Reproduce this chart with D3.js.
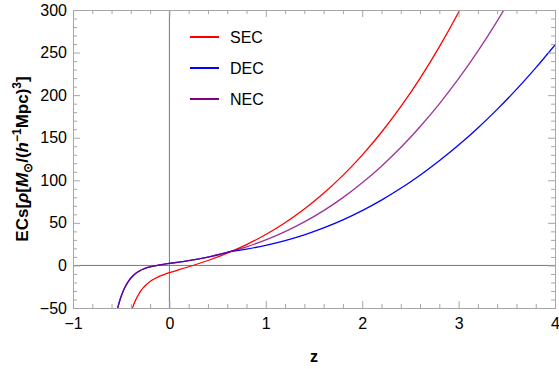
<!DOCTYPE html>
<html>
<head>
<meta charset="utf-8">
<script src="https://cdn.jsdelivr.net/npm/d3@7"></script>
<style>
  html, body { margin: 0; padding: 0; background: #fff; }
  svg { display: block; font-family: "Liberation Sans", Arial, sans-serif; }
</style>
</head>
<body>
<svg id="chart" width="559" height="369"></svg>
<script>
// Energy conditions versus redshift
const seriesNames = ["SEC", "DEC", "NEC"];
const seriesColors = ["#ff0000", "#0000ff", "#800080"];

const secZ = [-0.40, -0.38, -0.36, -0.34, -0.32, -0.30, -0.27, -0.24, -0.20, -0.15, -0.10, -0.05, 0,
  0.1, 0.2, 0.4, 0.6, 0.65, 0.8, 1.0, 1.2, 1.4, 1.6, 1.8, 2.0, 2.2, 2.4, 2.6, 2.8, 3.0, 3.2];
const secV = [-55.9, -49.0, -43.2, -38.3, -34.1, -30.5, -26.1, -22.6, -18.9, -15.4, -12.6, -10.4, -8.5,
  -4.95, -1.55, 5.79, 14.34, 16.73, 24.46, 36.35, 50.22, 66.3, 84.75, 105.79, 129.61, 156.42, 186.4,
  219.79, 256.69, 297.31, 341.9];

const necZ = [-0.56, -0.54, -0.52, -0.50, -0.48, -0.46, -0.44, -0.42, -0.40, -0.38, -0.36, -0.34, -0.32,
  -0.30, -0.27, -0.24, -0.20, -0.15, -0.10, -0.05, 0, 0.1, 0.2, 0.4, 0.6, 0.65, 0.8, 1.0, 1.2, 1.4, 1.6,
  1.8, 2.0, 2.2, 2.4, 2.6, 2.8, 3.0, 3.2, 3.4, 3.6];
const necV = [-61.9, -51.8, -43.3, -36.3, -30.3, -25.4, -21.3, -17.8, -14.8, -12.4, -10.3, -8.6, -7.1,
  -5.8, -4.3, -3.0, -1.7, -0.4, 0.7, 1.6, 2.4, 4.0, 5.74, 9.88, 15.20, 16.73, 21.84, 29.95, 39.66, 51.10,
  64.39, 79.65, 97.01, 116.58, 138.48, 162.87, 189.77, 219.31, 251.68, 286.97, 325.2];

const decZ = [-0.56, -0.54, -0.52, -0.50, -0.48, -0.46, -0.44, -0.42, -0.40, -0.38, -0.36, -0.34, -0.32,
  -0.30, -0.27, -0.24, -0.20, -0.15, -0.10, -0.05, 0, 0.1, 0.2, 0.4, 0.6, 0.65, 0.7, 0.8, 1.0, 1.2, 1.4,
  1.6, 1.8, 2.0, 2.2, 2.4, 2.6, 2.8, 3.0, 3.2, 3.4, 3.6, 3.8, 4.0];
const decV = [-61.9, -51.8, -43.3, -36.3, -30.3, -25.4, -21.3, -17.8, -14.8, -12.4, -10.3, -8.6, -7.1,
  -5.8, -4.3, -3.0, -1.7, -0.4, 0.7, 1.6, 2.4, 4.0, 5.74, 9.88, 15.20, 16.73, 17.49, 19.22, 23.55, 29.10,
  35.9, 44.03, 53.51, 64.41, 76.74, 90.56, 105.95, 122.85, 141.31, 161.46, 183.29, 206.74, 232.06, 259.05];

const xTicks = [-1, 0, 1, 2, 3, 4];
const yTicks = [-50, 0, 50, 100, 150, 200, 250, 300];

const svg = d3.select("#chart");
const plot = { left: 73, right: 555, top: 10, bottom: 308 };

const x = d3.scaleLinear().domain([-1, 4]).range([plot.left, plot.right]);
const y = d3.scaleLinear().domain([-50, 300]).range([plot.bottom, plot.top]);

const frameColor = "#a6a6a6";
const fmt = d => (d < 0 ? "\u2212" + Math.abs(d) : String(d));

svg.append("defs").append("clipPath").attr("id", "plotClip")
  .append("rect")
  .attr("x", plot.left).attr("y", plot.top)
  .attr("width", plot.right - plot.left).attr("height", plot.bottom - plot.top);

// Zero axes through the frame
svg.append("line")
  .attr("x1", x(0)).attr("x2", x(0)).attr("y1", plot.top).attr("y2", plot.bottom)
  .attr("stroke", "#777").attr("stroke-width", 1);
svg.append("line")
  .attr("x1", plot.left).attr("x2", plot.right).attr("y1", y(0)).attr("y2", y(0))
  .attr("stroke", "#777").attr("stroke-width", 1);

// Curves
const series = [
  { name: seriesNames[0], color: seriesColors[0], z: secZ, v: secV, opacity: 1 },
  { name: seriesNames[1], color: seriesColors[1], z: decZ, v: decV, opacity: 1 },
  { name: seriesNames[2], color: seriesColors[2], z: necZ, v: necV, opacity: 0.8 }
];
const line = d3.line()
  .x(d => x(d[0])).y(d => y(d[1]))
  .curve(d3.curveMonotoneX);
const curves = svg.append("g").attr("clip-path", "url(#plotClip)");
series.forEach(s => {
  curves.append("path")
    .datum(d3.zip(s.z, s.v))
    .attr("d", line)
    .attr("fill", "none")
    .attr("stroke", s.color)
    .attr("stroke-opacity", s.opacity)
    .attr("stroke-width", 1.3);
});

// Frame with inward ticks on all four sides
const axisG = svg.append("g");
const bottomAxis = d3.axisBottom(x).tickValues(xTicks).tickFormat(fmt).tickSize(-7).tickPadding(10);
const topAxis = d3.axisTop(x).tickValues(xTicks).tickFormat("").tickSize(-7);
const leftAxis = d3.axisLeft(y).tickValues(yTicks).tickFormat(fmt).tickSize(-7).tickPadding(6);
const rightAxis = d3.axisRight(y).tickValues(yTicks).tickFormat("").tickSize(-7);

const xMinor = d3.range(-1, 4.0001, 0.2).filter(v => Math.abs(v - Math.round(v)) > 1e-6);
const yMinor = d3.range(-50, 300.001, 10).filter(v => v % 50 !== 0);
const bottomMinor = d3.axisBottom(x).tickValues(xMinor).tickFormat("").tickSize(-4);
const topMinor = d3.axisTop(x).tickValues(xMinor).tickFormat("").tickSize(-4);
const leftMinor = d3.axisLeft(y).tickValues(yMinor).tickFormat("").tickSize(-4);
const rightMinor = d3.axisRight(y).tickValues(yMinor).tickFormat("").tickSize(-4);

function place(axis, tx, ty) {
  const g = axisG.append("g").attr("transform", `translate(${tx},${ty})`).call(axis);
  g.selectAll("path.domain").attr("stroke", frameColor).attr("stroke-width", 1);
  g.selectAll(".tick line").attr("stroke", frameColor).attr("stroke-width", 1);
  g.selectAll(".tick text").attr("fill", "#000").attr("font-size", 16)
    .attr("font-family", "Liberation Sans, Arial, sans-serif");
  return g;
}
place(bottomMinor, 0, plot.bottom);
place(topMinor, 0, plot.top);
place(leftMinor, plot.left, 0);
place(rightMinor, plot.right, 0);
place(bottomAxis, 0, plot.bottom);
place(topAxis, 0, plot.top);
place(leftAxis, plot.left, 0);
place(rightAxis, plot.right, 0);

// Axis titles
svg.append("text")
  .attr("x", (plot.left + plot.right) / 2).attr("y", 362)
  .attr("text-anchor", "middle").attr("font-size", 16).attr("font-weight", "bold")
  .text("z");

const yTitle = svg.append("text")
  .attr("transform", `translate(28,${(plot.top + plot.bottom) / 2}) rotate(-90)`)
  .attr("text-anchor", "middle").attr("font-size", 17).attr("font-weight", "bold");
yTitle.append("tspan").text("ECs[");
yTitle.append("tspan").attr("font-style", "italic").text("\u03C1");
yTitle.append("tspan").text("[");
yTitle.append("tspan").attr("font-style", "italic").text("M");
yTitle.append("tspan").attr("font-size", 12).attr("dy", 4).text("\u2299");
yTitle.append("tspan").attr("dy", -4).text("/(");
yTitle.append("tspan").attr("font-style", "italic").text("h");
yTitle.append("tspan").attr("font-size", 12).attr("dy", -7).text("\u22121");
yTitle.append("tspan").attr("dy", 7).text("Mpc)");
yTitle.append("tspan").attr("font-size", 12).attr("dy", -7).text("3");
yTitle.append("tspan").attr("dy", 7).text("]");

// Legend
const legend = svg.append("g");
series.forEach((s, i) => {
  const ly = 37 + i * 31;
  legend.append("line")
    .attr("x1", 190).attr("x2", 219).attr("y1", ly).attr("y2", ly)
    .attr("stroke", s.color).attr("stroke-width", 2);
  legend.append("text")
    .attr("x", 230).attr("y", ly + 6)
    .attr("font-size", 16).attr("fill", "#000")
    .text(s.name);
});
</script>
</body>
</html>
